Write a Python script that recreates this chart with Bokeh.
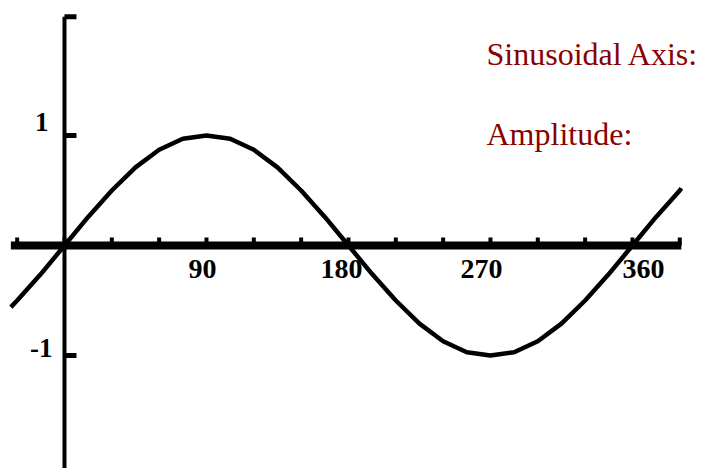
from bokeh.plotting import figure
from bokeh.models import Range1d, Label, ColumnDataSource
from bokeh.core.properties import value
from bokeh.embed import file_html
from bokeh.resources import INLINE

# ---- data ----
degrees = [-34, -30, -15, 0, 15, 30, 45, 60, 75, 90, 105, 120, 135, 150, 165, 180,
           195, 210, 225, 240, 255, 270, 285, 300, 315, 330, 345, 360, 375, 390, 391]
amplitude = [-0.56, -0.5, -0.26, 0.0, 0.26, 0.5, 0.71, 0.87, 0.97, 1.0, 0.97, 0.87, 0.71, 0.5, 0.26, 0.0,
             -0.26, -0.5, -0.71, -0.87, -0.97, -1.0, -0.97, -0.87, -0.71, -0.5, -0.26, 0.0, 0.26, 0.5, 0.52]

x_tick_values = [-30, 0, 30, 60, 90, 120, 150, 180, 210, 240, 270, 300, 330, 360, 390]
x_label_values = [90, 180, 270, 360]
x_label_text = ["90", "180", "270", "360"]
y_tick_values = [1, -1]
y_label_text = ["1", "-1"]

x_axis_start, x_axis_end = -34, 391
y_axis_top, y_axis_bottom = 2.08, -2.2

# ---- layout (screen nudges) ----
x_label_nudge = [-4, -7, -9, 11]
y_label_dx = [-16, -12]
y_label_dy = [-14, -7]

p = figure(width=702, height=468,
           x_range=Range1d(-40.56, 404.4), y_range=Range1d(-2.0273, 2.2273),
           x_axis_type=None, y_axis_type=None,
           output_backend="svg", toolbar_location=None, min_border=0)
p.grid.visible = False
p.outline_line_color = None
p.background_fill_color = "white"

# x axis line and ticks
p.segment(x0=[x_axis_start], y0=[0], x1=[x_axis_end], y1=[0], line_width=8, line_color="black")
tick_h = 8 / 110
p.segment(x0=x_tick_values, y0=[0] * len(x_tick_values), x1=x_tick_values,
          y1=[tick_h] * len(x_tick_values), line_width=4, line_color="black")

# y axis line and ticks
p.segment(x0=[0], y0=[y_axis_bottom], x1=[0], y1=[y_axis_top], line_width=4, line_color="black")
ytk = [y_axis_top] + y_tick_values
p.segment(x0=[0] * len(ytk), y0=ytk, x1=[7.6] * len(ytk), y1=ytk, line_width=5, line_color="black")

# curve
p.line(degrees, amplitude, line_width=4.5, line_color="black")

# x tick labels
xsrc = ColumnDataSource(dict(x=x_label_values, y=[0] * len(x_label_values), t=x_label_text,
                             dx=x_label_nudge))
p.text(x="x", y="y", text="t", source=xsrc, x_offset="dx", y_offset=24,
       text_align="center", text_baseline="middle",
       text_font=value("Liberation Serif"), text_font_style="bold",
       text_font_size="28px", text_color="black")

# y tick labels
ysrc = ColumnDataSource(dict(x=[0] * len(y_tick_values), y=y_tick_values, t=y_label_text,
                             dx=y_label_dx, dy=y_label_dy))
p.text(x="x", y="y", text="t", source=ysrc, x_offset="dx", y_offset="dy",
       text_align="right", text_baseline="middle",
       text_font=value("Liberation Serif"), text_font_style="bold",
       text_font_size="27px", text_color="black")

# red annotations
for txt, yy in [("Sinusoidal Axis:", 415), ("Amplitude:", 335)]:
    p.add_layout(Label(x=486, y=yy, x_units="screen", y_units="screen", text=txt,
                       text_font="Liberation Serif", text_font_size="32px",
                       text_color="#8b0000", text_baseline="alphabetic"))

open("out.html", "w").write(file_html(p, INLINE))
